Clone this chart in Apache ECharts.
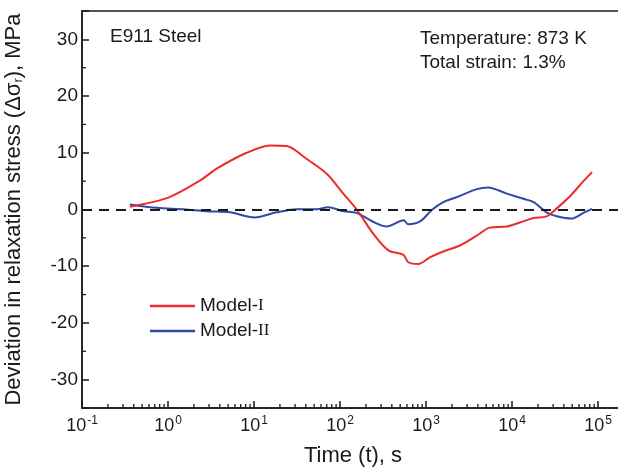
<!DOCTYPE html>
<html>
<head>
<meta charset="utf-8">
<title>E911 Steel - relaxation stress deviation</title>
<script src="https://cdn.jsdelivr.net/npm/echarts@6.0.0/dist/echarts.min.js"></script>
<style>
  html, body { margin: 0; padding: 0; background: #fff; }
  #chart { width: 618px; height: 470px; }
</style>
</head>
<body>
<div id="chart"></div>
<script>
// time (s) and deviation (MPa)
var timeModel1 = [0.36, 1.01, 2.35, 3.68, 8.2, 15.3, 24, 41, 70, 109, 156, 244, 365, 545, 622, 813,
                  1120, 1585, 2510, 3890, 5500, 8710, 12300, 17800, 25100, 33100, 46800, 67600, 85000];
var devModel1  = [0.5, 2.1, 5.1, 7.2, 10.0, 11.3, 11.2, 8.9, 6.3, 2.8, 0, -4.3, -7.2, -8.0, -9.3, -9.6,
                  -8.4, -7.4, -6.3, -4.6, -3.2, -3.0, -2.3, -1.5, -1.2, 0.2, 2.3, 5.0, 6.6];

var timeModel2 = [0.36, 0.74, 1.51, 2.82, 5.25, 10.2, 18.2, 31.6, 53.7, 72.4, 110, 155, 245, 347, 550, 617,
                  851, 1175, 1585, 2290, 3890, 5250, 8710, 13500, 17800, 25100, 33100, 49000, 67600, 85000];
var devModel2  = [0.9, 0.3, 0.05, -0.3, -0.5, -1.4, -0.5, 0.05, 0.05, 0.4, -0.3, -0.6, -2.2, -3.0, -1.9, -2.6,
                  -2.1, -0.05, 1.3, 2.2, 3.6, 3.9, 2.8, 1.9, 1.3, -0.5, -1.2, -1.6, -0.6, 0.1];

var seriesNames = ['Model-I', 'Model-II'];
var seriesColors = ['#ee2a2a', '#3149a6'];

// axis ranges and minor ticks
var xMin = 0.1, xMax = 2e5;
var yMin = -35, yMax = 35;
var xDecades = [0.1, 1, 10, 100, 1000, 10000];
var xMinorMult = [2, 3, 4, 5, 6, 7, 8, 9];
var yMinorTicks = [-25, -15, -5, 5, 15, 25];

var font = 'Liberation Sans, Arial, Helvetica, sans-serif';
var ink = '#1a1a1a';

function pairs(xs, ys) {
    var out = [];
    for (var i = 0; i < xs.length; i++) out.push([xs[i], ys[i]]);
    return out;
}

var minorData = [];
xDecades.forEach(function (d) {
    xMinorMult.forEach(function (m) {
        var v = d * m;
        if (v < xMax) minorData.push([v, yMin, 0]);
    });
});
yMinorTicks.forEach(function (v) { minorData.push([xMin, v, 1]); });

var chart = echarts.init(document.getElementById('chart'), null, { renderer: 'canvas' });

var option = {
    backgroundColor: '#ffffff',
    animation: false,
    textStyle: { fontFamily: font, color: ink },
    grid: {
        left: 82, top: 11, bottom: 62, right: -6,
        outerBoundsMode: 'none',
        containLabel: false,
        show: true, borderColor: ink, borderWidth: 1.5, backgroundColor: 'transparent'
    },
    legend: {
        left: 145, top: 291,
        orient: 'vertical',
        icon: 'rect',
        itemWidth: 45, itemHeight: 2.5,
        itemGap: 5,
        data: seriesNames,
        formatter: function (name) {
            return 'Model-{r|' + name.split('-')[1] + '}';
        },
        textStyle: {
            fontFamily: font, fontSize: 19, color: ink, lineHeight: 20,
            rich: { r: { fontFamily: 'Liberation Serif, serif', fontSize: 17, color: ink } }
        }
    },
    xAxis: {
        type: 'log', logBase: 10,
        min: xMin, max: xMax,
        name: 'Time (t), s',
        nameLocation: 'middle', nameGap: 37,
        nameTextStyle: { fontFamily: font, fontSize: 22, color: ink },
        axisLine: { show: true, onZero: false, lineStyle: { color: ink, width: 1.5 } },
        axisTick: { show: true, inside: true, length: 7, lineStyle: { color: ink, width: 1.5 } },
        splitLine: { show: false },
        axisLabel: {
            margin: 7,
            formatter: function (v) {
                var e = Math.round(Math.log10(v));
                if (Math.abs(v - Math.pow(10, e)) > 1e-9 * v) return '';
                return '{b|10}{s|' + e + '}';
            },
            rich: {
                b: { fontFamily: font, fontSize: 18, color: ink, lineHeight: 22 },
                s: { fontFamily: font, fontSize: 12, color: ink, verticalAlign: 'top', padding: [0, 0, 0, 1] }
            }
        }
    },
    yAxis: {
        type: 'value',
        min: yMin, max: yMax, splitNumber: 7,
        name: 'Deviation in relaxation stress (\u0394\u03c3{sub|r}), MPa',
        nameLocation: 'middle', nameRotate: 90, nameGap: 57,
        nameTextStyle: {
            fontFamily: font, fontSize: 22, color: ink,
            rich: { sub: { fontFamily: font, fontSize: 13, color: ink, verticalAlign: 'bottom' } }
        },
        axisLine: { show: true, onZero: false, lineStyle: { color: ink, width: 1.5 } },
        axisTick: { show: true, inside: true, length: 7, lineStyle: { color: ink, width: 1.5 } },
        splitLine: { show: false },
        axisLabel: {
            margin: 4,
            fontFamily: font, fontSize: 19, color: ink,
            formatter: function (v) { return v % 10 === 0 ? String(v) : ''; }
        }
    },
    graphic: [
        {
            type: 'text', left: 110, top: 27,
            style: { text: 'E911 Steel', fontFamily: font, fontSize: 19, fill: ink }
        },
        {
            type: 'text', left: 420, top: 27,
            style: { text: 'Temperature: 873 K\nTotal strain: 1.3%', fontFamily: font, fontSize: 19, lineHeight: 24, fill: ink }
        }
    ],
    series: [
        {
            name: seriesNames[0], type: 'line',
            data: pairs(timeModel1, devModel1),
            showSymbol: false, smooth: 0.3,
            lineStyle: { color: seriesColors[0], width: 2 },
            itemStyle: { color: seriesColors[0] },
            z: 3,
            markLine: {
                silent: true, symbol: 'none',
                label: { show: false },
                lineStyle: { type: [10, 7], color: ink, width: 2 },
                data: [{ yAxis: 0 }]
            }
        },
        {
            name: seriesNames[1], type: 'line',
            data: pairs(timeModel2, devModel2),
            showSymbol: false, smooth: 0.3,
            lineStyle: { color: seriesColors[1], width: 2 },
            itemStyle: { color: seriesColors[1] },
            z: 2
        },
        {
            // minor ticks for the log x axis and the y axis
            type: 'custom',
            coordinateSystem: 'cartesian2d',
            silent: true,
            clip: false,
            z: 5,
            data: minorData,
            renderItem: function (params, api) {
                var p = api.coord([api.value(0), api.value(1)]);
                var vertical = api.value(2) === 0;
                return {
                    type: 'line',
                    shape: vertical
                        ? { x1: p[0], y1: p[1], x2: p[0], y2: p[1] - 4 }
                        : { x1: p[0], y1: p[1], x2: p[0] + 4, y2: p[1] },
                    style: { stroke: ink, lineWidth: 1.3 }
                };
            }
        }
    ]
};

chart.setOption(option);
</script>
</body>
</html>
